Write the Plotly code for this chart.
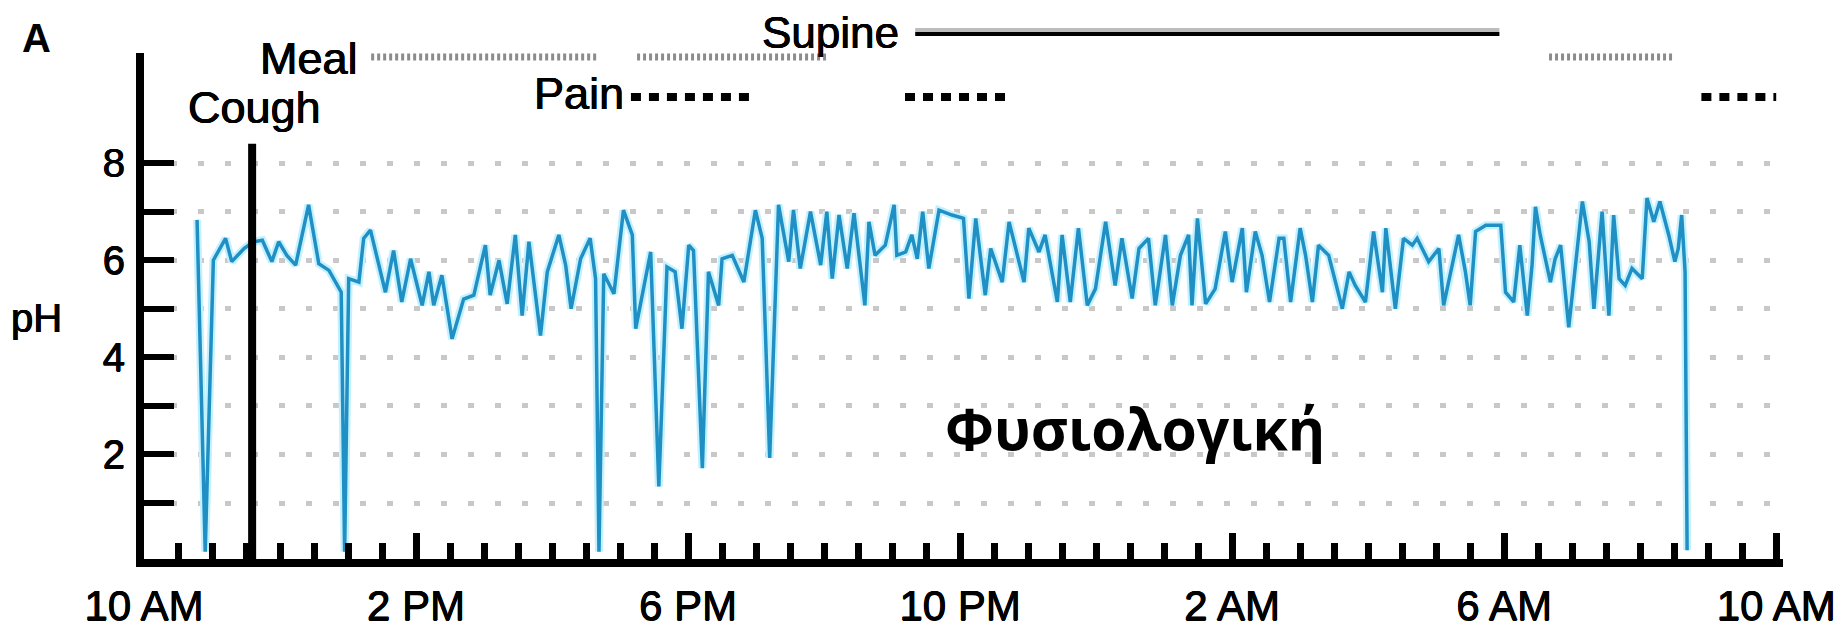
import plotly.graph_objects as go

# ---------------- data ----------------
hours = [0.78, 0.90, 1.02, 1.20, 1.29, 1.37, 1.47, 1.61, 1.74, 1.88, 1.98, 2.10, 2.23, 2.42, 2.57,
         2.72, 2.84, 2.90, 2.95, 3.01, 3.16, 3.23, 3.33, 3.55, 3.67, 3.79, 3.92, 4.09, 4.19, 4.26, 4.38,
         4.53, 4.70, 4.85, 5.02, 5.09, 5.22, 5.34, 5.46, 5.56, 5.66, 5.83, 5.93, 6.10, 6.20, 6.28, 6.42,
         6.56, 6.64, 6.69, 6.76, 6.91, 7.05, 7.18, 7.23, 7.45, 7.57, 7.69, 7.81, 7.91, 8.01,
         8.08, 8.21, 8.30, 8.45, 8.50, 8.65, 8.82, 8.99, 9.09, 9.20, 9.33, 9.48, 9.55, 9.65, 9.80, 9.95,
         10.04, 10.12, 10.22, 10.34, 10.44, 10.60, 10.66, 10.75, 10.90, 11.03, 11.07, 11.20, 11.29, 11.37,
         11.45, 11.54, 11.69,
         11.88, 12.05, 12.13, 12.23, 12.37, 12.45, 12.62, 12.72, 12.94, 13.01, 13.16, 13.25, 13.43, 13.50,
         13.62, 13.74, 13.87, 13.99, 14.14, 14.28, 14.38, 14.53, 14.63, 14.77, 14.87, 15.02, 15.12, 15.24, 15.36,
         15.41, 15.49, 15.61, 15.75, 15.90, 16.00, 16.15, 16.21, 16.34, 16.44, 16.55, 16.69, 16.76, 16.86,
         17.00, 17.08, 17.18, 17.27, 17.42, 17.62, 17.72, 17.81, 17.96, 18.08, 18.21, 18.26, 18.40, 18.52,
         18.65, 18.72, 18.89, 19.04,
         19.11, 19.33, 19.43, 19.50, 19.58, 19.73, 19.95, 20.02, 20.14, 20.23, 20.34, 20.41, 20.46, 20.53,
         20.68, 20.75, 20.83, 20.95, 21.07, 21.15, 21.25, 21.32, 21.44, 21.54, 21.61, 21.69, 21.78, 21.88,
         22.03, 22.10, 22.20, 22.29, 22.42, 22.51, 22.56, 22.61, 22.66, 22.69]

ph = [6.83, 0.00, 6.00, 6.45, 5.97, 6.10, 6.24, 6.38, 6.41, 5.97, 6.38, 6.10, 5.90, 7.14, 5.93,
      5.79, 5.48, 5.34, 0.00, 5.62, 5.55, 6.45, 6.62, 5.34, 6.20, 5.14, 6.03, 5.07, 5.76, 5.07, 5.69,
      4.38, 5.20, 5.28, 6.31, 5.28, 6.00, 5.10, 6.52, 4.86, 6.38, 4.45, 5.76, 6.52, 5.90, 5.00, 6.03,
      6.45, 5.62, 0.00, 5.72, 5.31, 7.03, 6.52, 4.59, 6.17, 1.34, 5.86, 5.76, 4.59, 6.31,
      6.20, 1.72, 5.76, 5.07, 6.03, 6.10, 5.55, 7.03, 6.45, 1.93, 7.14, 5.97, 7.03, 5.83, 7.00, 5.90,
      7.00, 5.62, 6.93, 5.83, 6.97, 5.07, 6.79, 6.10, 6.31, 7.14, 6.10, 6.17, 6.52, 6.03,
      7.00, 5.83, 7.03,
      6.93, 6.86, 5.21, 6.86, 5.28, 6.24, 5.55, 6.79, 5.55, 6.66, 6.17, 6.52, 5.14, 6.52,
      5.14, 6.66, 5.07, 5.41, 6.79, 5.48, 6.45, 5.21, 6.24, 6.45, 5.07, 6.52, 5.07, 6.10, 6.52,
      5.07, 6.86, 5.10, 5.41, 6.59, 5.55, 6.66, 5.34, 6.59, 6.10, 5.14, 6.45, 6.45, 5.14,
      6.66, 6.10, 5.14, 6.31, 6.10, 5.00, 5.76, 5.48, 5.14, 6.59, 5.34, 6.66, 5.00, 6.45,
      6.31, 6.45, 5.97, 6.24,
      5.07, 6.52, 5.76, 5.07, 6.59, 6.72, 6.72, 5.34, 5.14, 6.31, 4.86, 5.90, 7.10, 6.52,
      5.55, 6.03, 6.31, 4.62, 6.24, 7.21, 6.38, 5.00, 7.00, 4.86, 6.93, 5.62, 5.48, 5.83,
      5.62, 7.28, 6.79, 7.21, 6.52, 5.97, 6.24, 6.93, 5.76, 0.03]

tick_hours = [0, 4, 8, 12, 16, 20, 24]
tick_labels = ["10 AM", "2 PM", "6 PM", "10 PM", "2 AM", "6 AM", "10 AM"]
ph_ticks = [1, 2, 3, 4, 5, 6, 7, 8]
ph_labels = ["", "2", "", "4", "", "6", "", "8"]

cough_time = 1.59
cough_top_ph = 8.4
meal_periods = [(3.34, 6.69), (7.25, 10.04), (20.66, 22.47)]
pain_periods = [(7.16, 8.93), (11.19, 12.72), (22.90, 24.0)]
supine_period = (11.34, 19.93)

# ---------------- geometry (pixel positions in the 1847x631 window) ----------------
W, H = 1847, 631
L, R, T, B = 144, 1783, 53, 559
PW, PH = R - L, B - T
X_RANGE = [0, 24.1]
Y_RANGE = [-0.152, 10.266]
FONT = "Liberation Sans, Arial, sans-serif"
HEAVY = "0.5px 0px 0px black, -0.4px 0px 0px black, 0px 0.4px 0px black"


def px_x(px):
    return (px - L) / PW


def px_y(py):
    return (B - py) / PH


fig = go.Figure()

# halo + core of the pH trace
fig.add_trace(go.Scatter(x=hours, y=ph, mode="lines",
                         line=dict(color="#c4f1ff", width=8), hoverinfo="skip"))
fig.add_trace(go.Scatter(x=hours, y=ph, mode="lines",
                         line=dict(color="#1f8fc4", width=3.5)))

shapes = []
# cough marker
shapes.append(dict(type="line", xref="x", yref="y", x0=cough_time, x1=cough_time,
                   y0=Y_RANGE[0], y1=cough_top_ph, line=dict(color="black", width=8)))
# meal periods (dotted grey)
for s, e in meal_periods:
    shapes.append(dict(type="line", xref="x", yref="paper", x0=s, x1=e,
                       y0=px_y(57), y1=px_y(57),
                       line=dict(color="#8c8c8c", width=7, dash="3px,3px")))
# pain periods (black dots)
for s, e in pain_periods:
    shapes.append(dict(type="line", xref="x", yref="paper", x0=s, x1=e,
                       y0=px_y(97), y1=px_y(97),
                       line=dict(color="black", width=8, dash="10px,8px")))
# supine
shapes.append(dict(type="line", xref="x", yref="paper", x0=supine_period[0], x1=supine_period[1],
                   y0=px_y(30), y1=px_y(30), line=dict(color="#bdbdbd", width=4)))
shapes.append(dict(type="line", xref="x", yref="paper", x0=supine_period[0], x1=supine_period[1],
                   y0=px_y(34), y1=px_y(34), line=dict(color="black", width=4)))

annotations = [
    dict(text="<b>A</b>", x=px_x(37), y=px_y(38), font=dict(size=40)),
    dict(text="pH", x=px_x(37), y=px_y(318), font=dict(size=40, shadow=HEAVY)),
    dict(text="Meal", x=px_x(360), y=px_y(58), xanchor="right", font=dict(size=45, shadow=HEAVY)),
    dict(text="Supine", x=px_x(901), y=px_y(32), xanchor="right", font=dict(size=44, shadow=HEAVY)),
    dict(text="Cough", x=px_x(254), y=px_y(107), font=dict(size=45, shadow=HEAVY)),
    dict(text="Pain", x=px_x(626), y=px_y(93), xanchor="right", font=dict(size=45, shadow=HEAVY)),
    dict(text="<b>Φυσιολογική</b>", x=px_x(1135), y=px_y(428),
         font=dict(size=57, family="Open Sans, Noto Sans, sans-serif")),
]
for a in annotations:
    a.update(xref="paper", yref="paper", showarrow=False)
    a.setdefault("xanchor", "center")
    a["yanchor"] = "middle"
    a["font"].setdefault("family", FONT)
    a["font"]["color"] = "black"

fig.update_layout(
    width=W, height=H,
    margin=dict(l=L, r=W - R, t=T, b=H - B, pad=0, autoexpand=False),
    paper_bgcolor="white", plot_bgcolor="white",
    showlegend=False,
    font=dict(family=FONT, size=40, color="black"),
    shapes=shapes, annotations=annotations,
    xaxis=dict(range=X_RANGE, showline=True, linecolor="black", linewidth=8,
               automargin=False,
               tickmode="array", tickvals=tick_hours, ticktext=tick_labels,
               ticks="inside", ticklen=26, tickwidth=7, tickcolor="black",
               minor=dict(dtick=0.5, tick0=0, ticks="inside", ticklen=16, tickwidth=7,
                          tickcolor="black", showgrid=False),
               showgrid=False, zeroline=False, fixedrange=True,
               tickfont=dict(size=42, shadow=HEAVY), ticklabelstandoff=3),
    yaxis=dict(range=Y_RANGE, showline=True, linecolor="black", linewidth=8,
               automargin=False,
               tickmode="array", tickvals=ph_ticks, ticktext=ph_labels,
               ticks="inside", ticklen=30, tickwidth=6, tickcolor="black",
               showgrid=True, gridcolor="#c8c8c8", gridwidth=5, griddash="6px,21px",
               zeroline=False, fixedrange=True, tickfont=dict(size=40, shadow=HEAVY),
               ticklabelstandoff=3),
)

fig.write_html("out.html", config={"displayModeBar": False},
               post_script="document.body.style.margin='0px';")
